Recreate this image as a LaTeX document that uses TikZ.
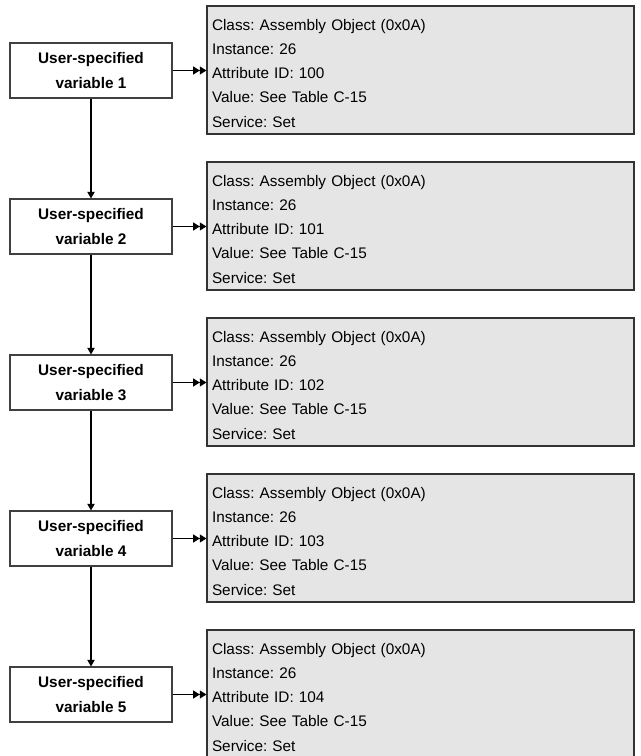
\documentclass[tikz,border=0pt]{standalone}
\usepackage{fontspec}
\setmainfont{Liberation Sans}
\usetikzlibrary{arrows.meta}
\frenchspacing
\begin{document}
\begin{tikzpicture}[x=0.75pt,y=-0.75pt,
  varbox/.style={draw=black!75, line width=0.8pt, fill=white, rectangle,
    minimum width=121.5pt, minimum height=41.25pt, inner sep=0pt,
    align=center, font=\fontsize{11.5}{18.5}\selectfont\bfseries},
  infobox/.style={draw=black!80, line width=0.8pt, fill=black!10, rectangle,
    text width=312.75pt, inner xsep=3.75pt, inner ysep=0pt,
    minimum height=96pt, align=left,
    font=\fontsize{11.5}{18.2}\selectfont},
  flow/.style={draw=black, line width=0.8pt, -{Triangle[length=5pt,width=5.5pt]}},
  feed/.style={draw=black, line width=0.8pt,
    -{Triangle[length=5pt,width=6pt]Triangle[length=5pt,width=6pt]}}]
\useasboundingbox (0,0) rectangle (640,756);
\foreach \k in {1,...,5}{
  \pgfmathsetmacro{\vy}{70.5+156*(\k-1)}
  \pgfmathsetmacro{\iy}{70+156*(\k-1)}
  \pgfmathtruncatemacro{\attr}{99+\k}
  \node[varbox] (v\k) at (91,\vy) {User-specified\\variable \k};
  \node[infobox] (i\k) at (420.5,\iy) {\rule{0pt}{13pt}Class: Assembly Object (0x0A)\\Instance: 26\\Attribute ID: \attr\\Value: See Table C-15\\Service: Set};
  \draw[feed] (v\k.east) -- (v\k.east -| i\k.west);
}
\foreach \a/\b in {1/2,2/3,3/4,4/5}{
  \draw[flow] (v\a) -- (v\b);
}
\end{tikzpicture}
\end{document}
